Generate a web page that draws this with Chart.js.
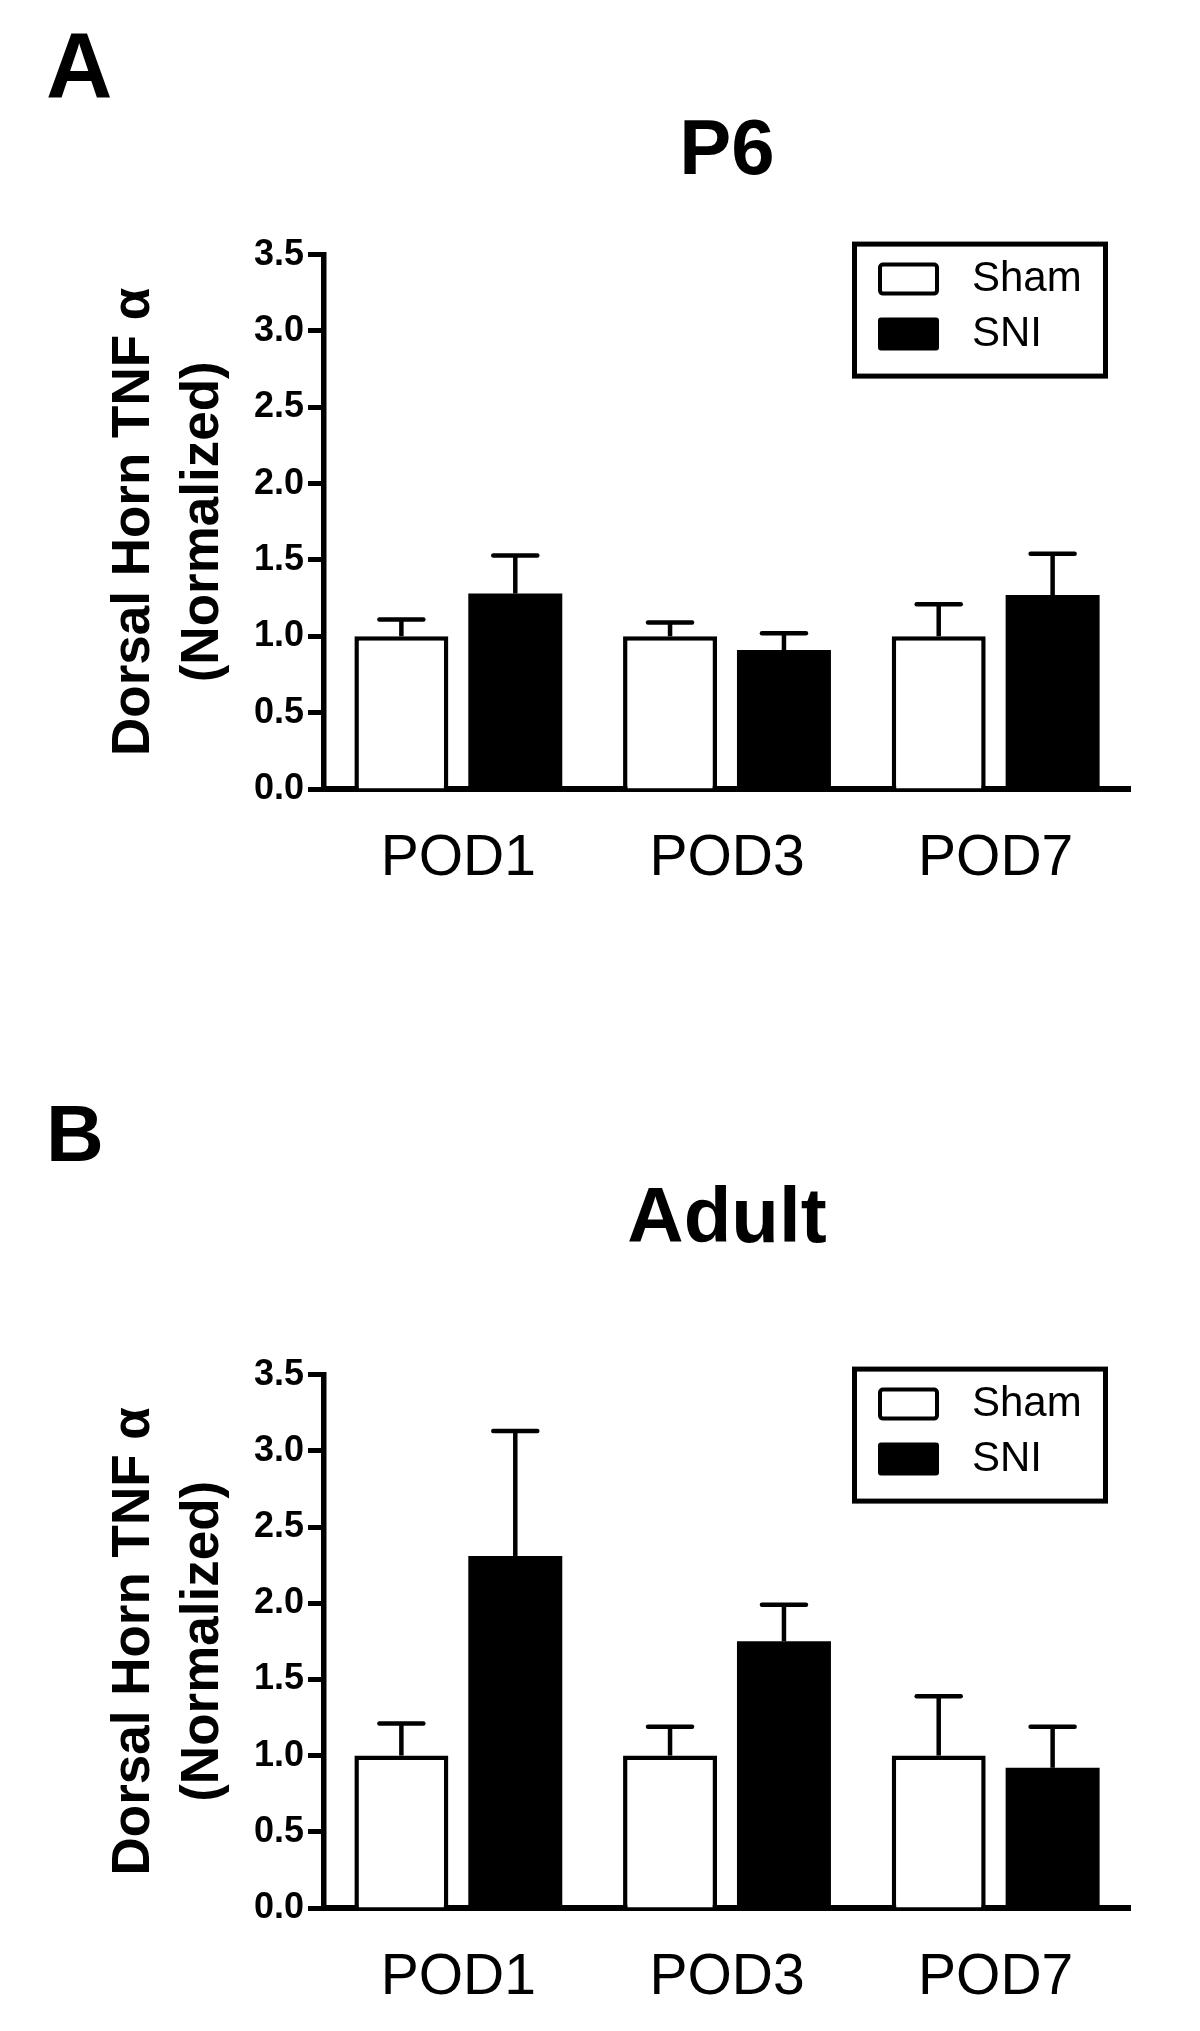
<!DOCTYPE html>
<html lang="en">
<head>
<meta charset="UTF-8">
<title>Dorsal Horn TNFα - P6 / Adult</title>
<script src="https://cdn.jsdelivr.net/npm/chart.js"></script>
<style>
    body { margin: 0; background: #ffffff; width: 1200px; height: 2031px; position: relative; overflow: hidden;
           font-family: "Liberation Sans", Arial, sans-serif; }
    .panel { position: absolute; left: 0; width: 1200px; }
    .letter { position: absolute; font-weight: bold; line-height: 1; color: #000; }
</style>
</head>
<body>
    <div class="letter" style="left:46px; top:19px; font-size:92px;">A</div>
    <div class="panel" style="top:0px;"><canvas id="chartA" width="1200" height="1015"></canvas></div>

    <div class="letter" style="left:46px; top:1094px; font-size:80px;">B</div>
    <div class="panel" style="top:1015px;"><canvas id="chartB" width="1200" height="1016"></canvas></div>

<script>
    // values (mean and SEM, normalized)
    const categories = ['POD1', 'POD3', 'POD7'];
    const seriesNames = ['Sham', 'SNI'];
    const yTicks = [0, 0.5, 1.0, 1.5, 2.0, 2.5, 3.0, 3.5];

    const p6Sham = [1.0, 1.0, 1.0];
    const p6ShamSem = [0.11, 0.09, 0.21];
    const p6Sni = [1.28, 0.91, 1.27];
    const p6SniSem = [0.25, 0.11, 0.27];

    const adultSham = [1.0, 1.0, 1.0];
    const adultShamSem = [0.21, 0.19, 0.39];
    const adultSni = [2.31, 1.75, 0.92];
    const adultSniSem = [0.82, 0.24, 0.27];

    const FONT = '"Liberation Sans", Arial, sans-serif';

    // upper error bars (mean + SEM) drawn through the y scale
    const errorBarPlugin = {
        id: 'errorBars',
        afterDatasetsDraw(chart) {
            const ctx = chart.ctx;
            const yScale = chart.scales.y;
            ctx.save();
            ctx.strokeStyle = '#000';
            ctx.lineWidth = 4.5;
            chart.data.datasets.forEach((ds, i) => {
                chart.getDatasetMeta(i).data.forEach((bar, j) => {
                    const top = yScale.getPixelForValue(ds.data[j] + ds.sem[j]);
                    ctx.lineCap = 'butt';
                    ctx.beginPath();
                    ctx.moveTo(bar.x, bar.y);
                    ctx.lineTo(bar.x, top);
                    ctx.stroke();
                    ctx.lineCap = 'round';
                    ctx.beginPath();
                    ctx.moveTo(bar.x - 22, top);
                    ctx.lineTo(bar.x + 22, top);
                    ctx.stroke();
                });
            });
            ctx.restore();
        }
    };

    // framed legend in the upper right of the plot
    const boxLegendPlugin = {
        id: 'boxLegend',
        afterDraw(chart, args, opts) {
            const ctx = chart.ctx;
            const area = chart.chartArea;
            const bx = area.right - 278;
            const by = area.top + opts.offsetY;
            ctx.save();
            ctx.strokeStyle = '#000';
            ctx.lineWidth = 5;
            ctx.strokeRect(bx + 2.5, by + 2.5, 251, 132);
            chart.data.datasets.forEach((ds, i) => {
                const sy = by + 21 + i * 55;
                if (ds.borderWidth) {
                    ctx.fillStyle = ds.backgroundColor;
                    ctx.lineWidth = 4;
                    ctx.beginPath();
                    ctx.roundRect(bx + 28, sy + 2, 57, 29, 3);
                    ctx.fill();
                    ctx.stroke();
                } else {
                    ctx.fillStyle = ds.backgroundColor;
                    ctx.beginPath();
                    ctx.roundRect(bx + 26, sy, 61, 33, 3);
                    ctx.fill();
                }
                ctx.fillStyle = '#000';
                ctx.font = '42px ' + FONT;
                ctx.textBaseline = 'middle';
                ctx.textAlign = 'left';
                ctx.fillText(ds.label, bx + 120, sy + 17);
            });
            ctx.restore();
        }
    };

    function makeChart(id, title, sham, shamSem, sni, sniSem, lay) {
        return new Chart(document.getElementById(id), {
            type: 'bar',
            data: {
                labels: categories,
                datasets: [
                    { label: seriesNames[0], data: sham, sem: shamSem, backgroundColor: '#ffffff', borderColor: '#000000',
                      borderWidth: 4.5, categoryPercentage: 0.848, barPercentage: 0.825 },
                    { label: seriesNames[1], data: sni, sem: sniSem, backgroundColor: '#000000', borderColor: '#000000',
                      borderWidth: 0, categoryPercentage: 0.848, barPercentage: 0.825 }
                ]
            },
            options: {
                responsive: false,
                animation: false,
                layout: { padding: { left: 0, right: 70, top: 0, bottom: 0 } },
                plugins: {
                    legend: { display: false },
                    tooltip: { enabled: false },
                    title: {
                        display: true, text: title, fullSize: false, color: '#000',
                        font: { family: FONT, size: 78, weight: 'bold', lineHeight: 1.2 },
                        padding: { top: lay.titleTop, bottom: lay.titleBottom }
                    },
                    boxLegend: { offsetY: lay.legendY }
                },
                scales: {
                    x: {
                        grid: { display: false, drawTicks: false },
                        border: { display: true, color: '#000', width: 6 },
                        ticks: { color: '#000', padding: 36, maxRotation: 0, autoSkip: false,
                                 font: { family: FONT, size: 57 } },
                        afterFit: s => { s.height = lay.xHeight; }
                    },
                    y: {
                        min: 0, max: 3.5,
                        afterBuildTicks: s => { s.ticks = yTicks.map(v => ({ value: v })); },
                        grid: { drawOnChartArea: false, drawTicks: true, tickLength: 16, tickWidth: 5, color: '#000' },
                        border: { display: true, color: '#000', width: 5.5 },
                        ticks: { color: '#000', padding: 4, font: { family: FONT, size: 36, weight: 'bold' },
                                 callback: v => Number(v).toFixed(1) },
                        title: {
                            display: true, text: ['Dorsal Horn TNF α', '(Normalized)'], color: '#000',
                            font: { family: FONT, size: 53, weight: 'bold', lineHeight: 1.3 },
                            padding: { top: 100, bottom: 0 }
                        },
                        afterFit: s => { s.width = 324; }
                    }
                }
            },
            plugins: [errorBarPlugin, boxLegendPlugin]
        });
    }

    makeChart('chartA', 'P6', p6Sham, p6ShamSem, p6Sni, p6SniSem,
              { titleTop: 106, titleBottom: 55, xHeight: 226, legendY: -13 });
    makeChart('chartB', 'Adult', adultSham, adultShamSem, adultSni, adultSniSem,
              { titleTop: 159, titleBottom: 107, xHeight: 123, legendY: -8 });
</script>
</body>
</html>
